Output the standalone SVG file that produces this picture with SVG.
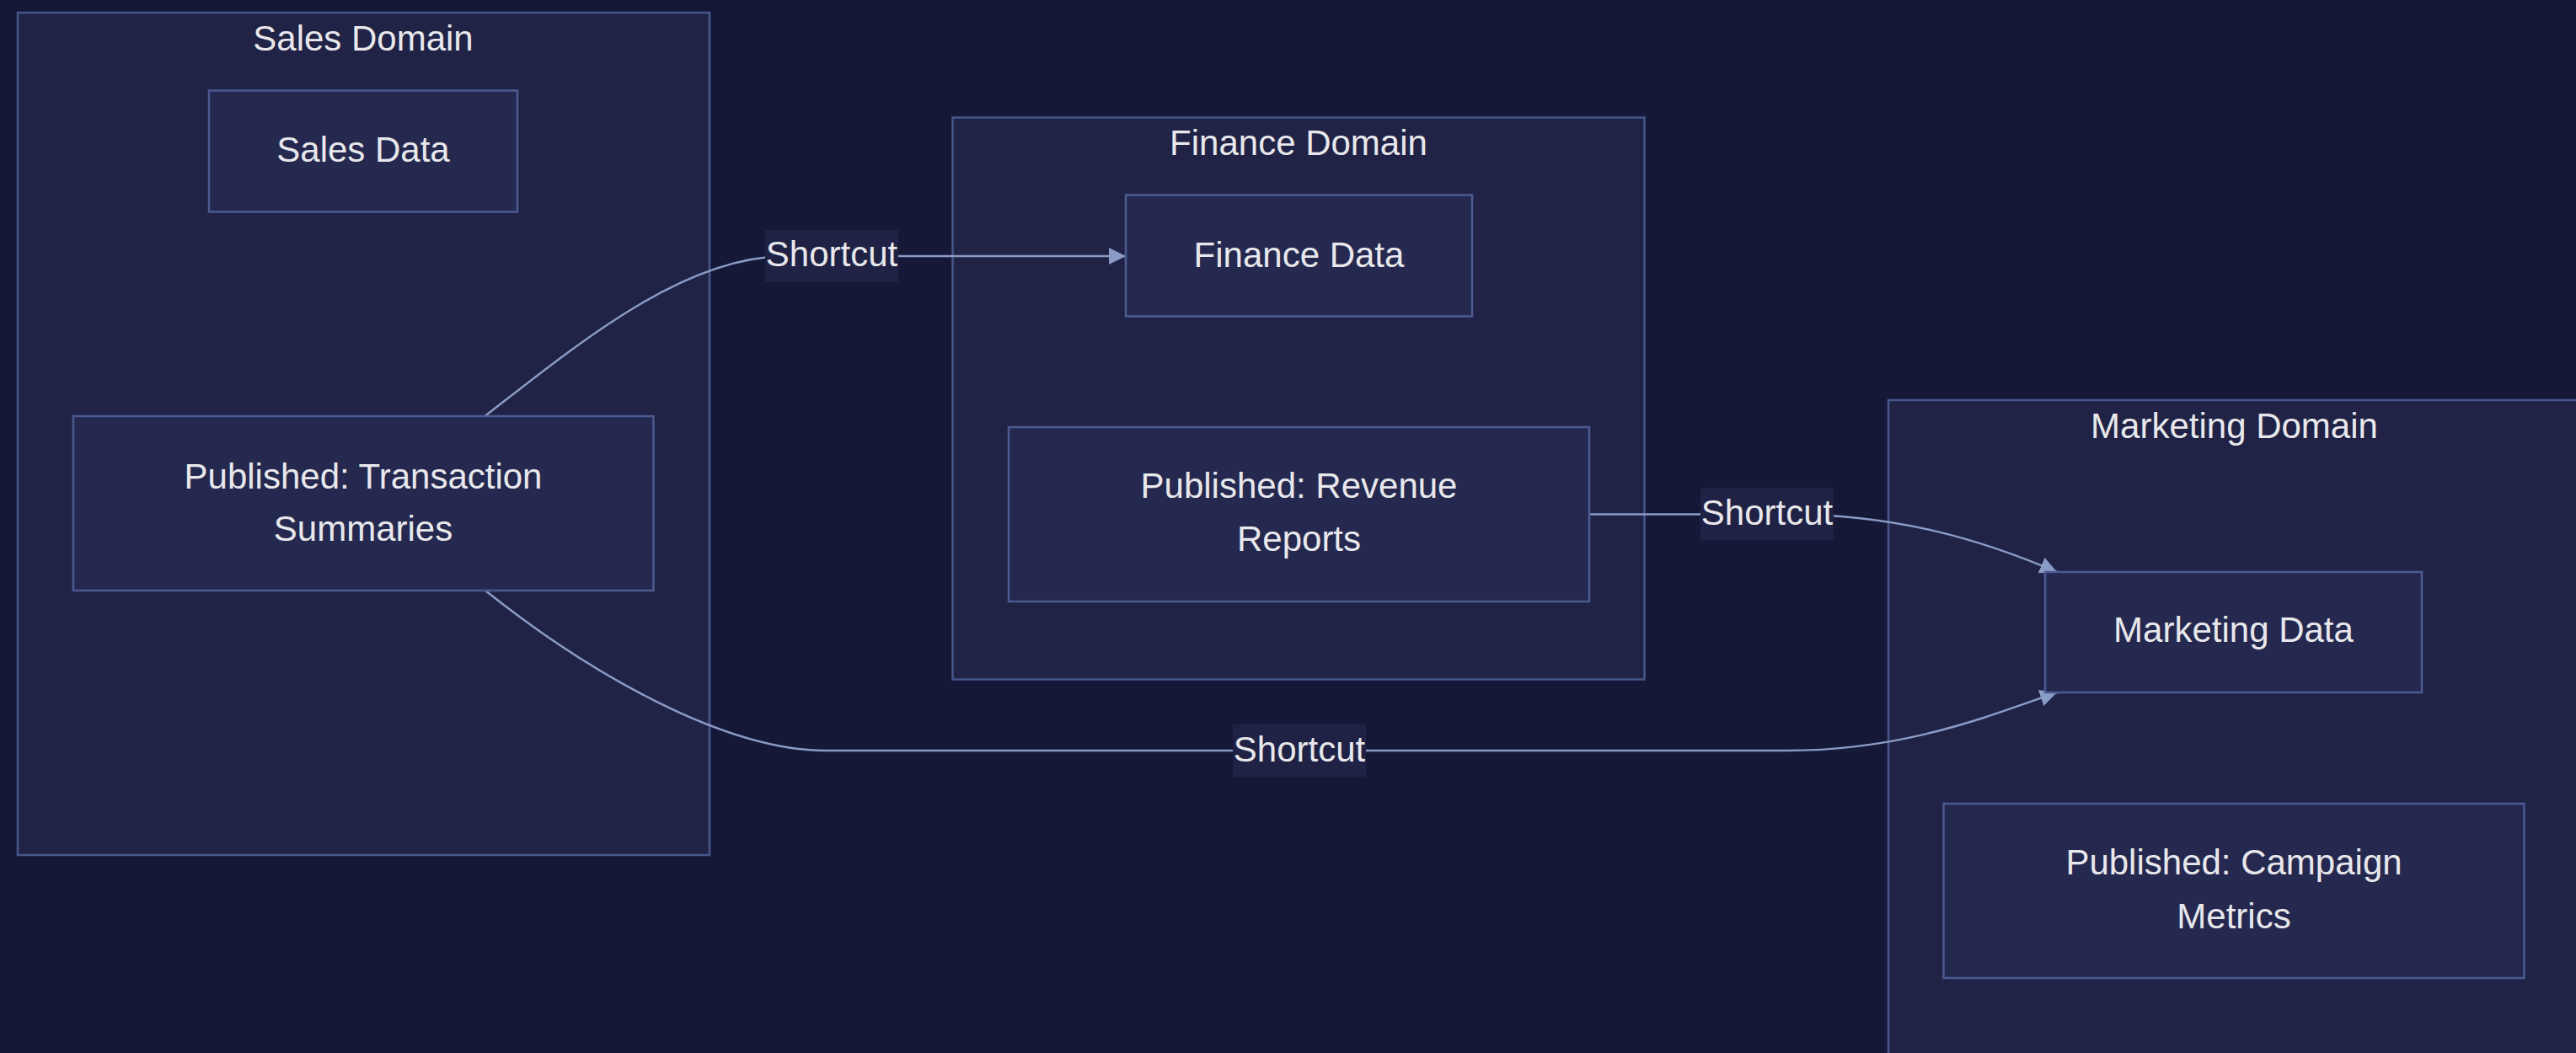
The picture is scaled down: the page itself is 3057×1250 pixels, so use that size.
<svg xmlns="http://www.w3.org/2000/svg" width="3057" height="1250" viewBox="0 0 3057 1250">
<defs>
<style>
.cluster{fill:#202345;stroke:#48578b;stroke-width:2.5}
.node{fill:#25294f;stroke:#4b5b91;stroke-width:2.5}
.t{font-family:"Liberation Sans",Arial,sans-serif;font-size:42px;fill:#e8e8ec;text-anchor:middle}
.edge{fill:none;stroke:#8a9bc6;stroke-width:2.5}
.lbl{fill:#1f2244}
</style>
<marker id="arrow" viewBox="0 0 10 10" refX="10" refY="5" markerWidth="20" markerHeight="20" markerUnits="userSpaceOnUse" orient="auto">
<path d="M0,0 L10,5 L0,10 z" fill="#8a9bc6"/>
</marker>
</defs>
<rect x="0" y="0" width="3057" height="1250" fill="#161838"/>

<g id="cluster-sales">
<rect class="cluster" x="21" y="15" width="821" height="1000"/>
<text class="t" x="431" y="60">Sales Domain</text>
</g>
<g id="cluster-finance">
<rect class="cluster" x="1130.5" y="139.5" width="821" height="667"/>
<text class="t" x="1541" y="184">Finance Domain</text>
</g>
<g id="cluster-marketing">
<rect class="cluster" x="2241" y="475" width="821" height="800"/>
<text class="t" x="2651.5" y="520">Marketing Domain</text>
</g>

<g id="connectors">
<path class="edge" d="M575.5,494 C690,405 810,306 930,304 L1336,304" marker-end="url(#arrow)"/>
<path class="edge" d="M1886,610.5 L2120,610.5 C2250,610.5 2350,640 2441,679" marker-end="url(#arrow)"/>
<path class="edge" d="M576,701 C700,800 860,891 980,891 L2120,891 C2260,891 2360,850 2441,822" marker-end="url(#arrow)"/>
<rect class="lbl" x="908" y="273" width="158" height="62"/>
<text class="t" x="987" y="316">Shortcut</text>
<rect class="lbl" x="2018" y="579.5" width="158" height="62"/>
<text class="t" x="2097" y="623">Shortcut</text>
<rect class="lbl" x="1463" y="860" width="158" height="62.5"/>
<text class="t" x="1542" y="904">Shortcut</text>
</g>

<g id="sales-data">
<rect class="node" x="248" y="107.5" width="366" height="144"/>
<text class="t" x="431" y="192">Sales Data</text>
</g>
<g id="sales-published">
<rect class="node" x="87" y="494" width="688.5" height="207"/>
<text class="t" x="431" y="579.5">Published: Transaction</text>
<text class="t" x="431" y="641.5">Summaries</text>
</g>
<g id="finance-data">
<rect class="node" x="1336" y="231.5" width="411" height="144"/>
<text class="t" x="1541.5" y="316.5">Finance Data</text>
</g>
<g id="finance-published">
<rect class="node" x="1197" y="507" width="689" height="207"/>
<text class="t" x="1541.5" y="590.5">Published: Revenue</text>
<text class="t" x="1541.5" y="654">Reports</text>
</g>
<g id="marketing-data">
<rect class="node" x="2427" y="679" width="447" height="143"/>
<text class="t" x="2650.5" y="762">Marketing Data</text>
</g>
<g id="marketing-published">
<rect class="node" x="2306.5" y="954" width="689" height="207"/>
<text class="t" x="2651" y="1038">Published: Campaign</text>
<text class="t" x="2651" y="1101.5">Metrics</text>
</g>
</svg>
